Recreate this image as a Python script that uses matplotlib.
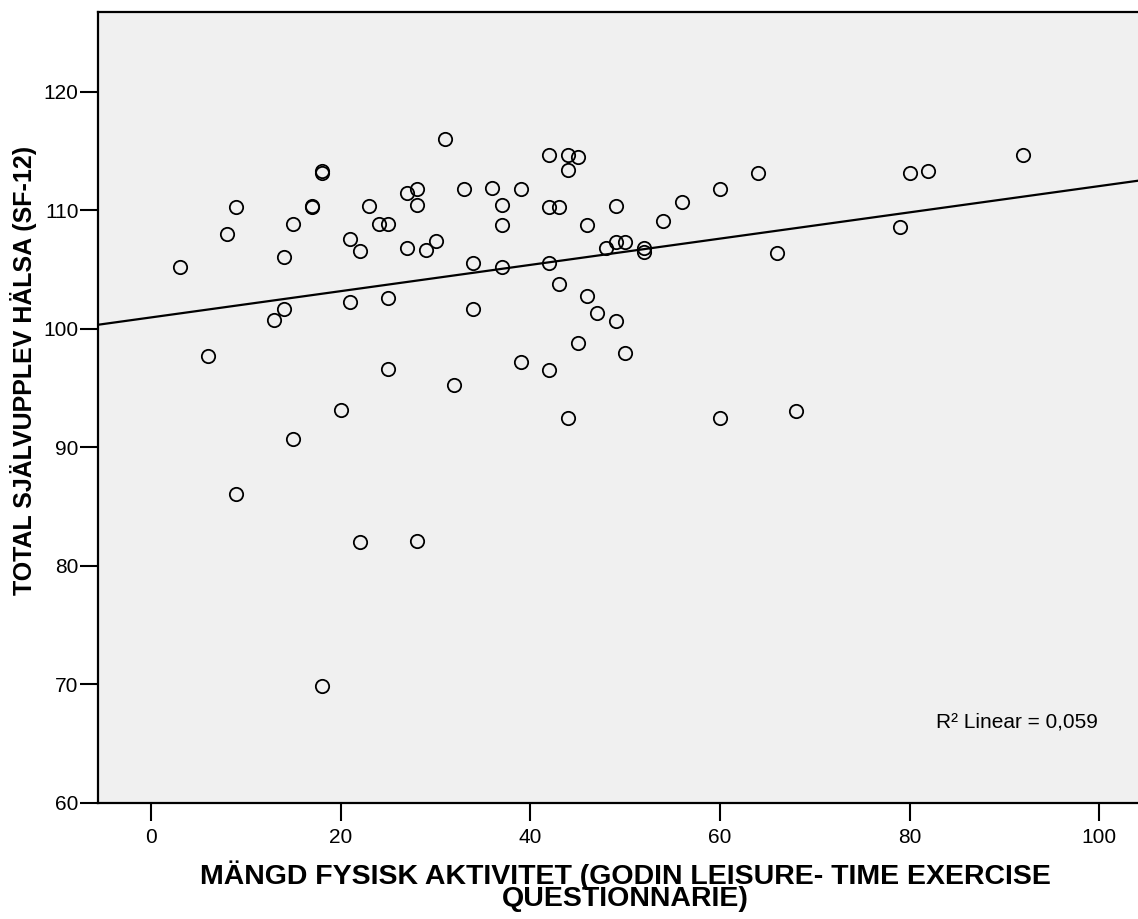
import numpy as np
import matplotlib
matplotlib.use("Agg")
import matplotlib.pyplot as plt
from matplotlib.transforms import IdentityTransform

plt.rcParams['font.family'] = ['Liberation Sans', 'DejaVu Sans']

activity = [3, 6, 8, 9, 9, 13, 14, 14, 15, 15, 17, 17, 18, 18, 18, 20, 21, 21, 22, 22,
            23, 24, 25, 25, 25, 27, 27, 28, 28, 28, 29, 30, 31, 32, 33, 34, 34, 36, 37, 37,
            37, 39, 39, 42, 42, 42, 42, 43, 43, 44, 44, 44, 45, 45, 46, 46, 47, 48, 49, 49,
            49, 50, 50, 52, 52, 54, 56, 60, 60, 64, 66, 68, 79, 80, 82, 92]
health = [105.2, 97.7, 108.05, 110.3, 86.1, 100.8, 101.7, 106.1, 108.9, 90.7, 110.3, 110.35,
          113.3, 113.2, 69.9, 93.2, 107.6, 102.25, 106.6, 82.05, 110.35, 108.9, 108.9, 102.6,
          96.6, 111.45, 106.8, 111.8, 110.5, 82.1, 106.7, 107.45, 116.0, 95.3, 111.8, 105.6,
          101.7, 111.9, 110.5, 108.75, 105.2, 111.8, 97.2, 114.7, 110.3, 105.6, 96.5, 110.3,
          103.8, 114.7, 113.4, 92.5, 114.5, 98.8, 108.8, 102.8, 101.35, 106.8, 110.4, 107.3,
          100.7, 107.3, 98.0, 106.8, 106.5, 109.1, 110.7, 111.8, 92.5, 113.2, 106.4, 93.1,
          108.6, 113.2, 113.3, 114.7]
x_ticks = [0, 20, 40, 60, 80, 100]
y_ticks = [60, 70, 80, 90, 100, 110, 120]
r2_label = "R² Linear = 0,059"
x_label = "MÄNGD FYSISK AKTIVITET (GODIN LEISURE- TIME EXERCISE\nQUESTIONNARIE)"
y_label = "TOTAL SJÄLVUPPLEV HÄLSA (SF-12)"

W, H = 1138, 919
fig = plt.figure(figsize=(W / 100, H / 100), dpi=100)
ax = fig.add_axes([98 / W, 1 - 803 / H, (W - 98) / W, (803 - 12) / H])
ax.set_facecolor('#F0F0F0')

xmin, xmax = -5.6, 104.1
ax.set_xlim(xmin, xmax)
ax.set_ylim(60, 126.75)

ax.plot(activity, health, linestyle='none', marker='o', markersize=9.6,
        markerfacecolor='none', markeredgecolor='black', markeredgewidth=1.3, zorder=3)

coef = np.polyfit(activity, health, 1)
xs = np.array([xmin, xmax])
ax.plot(xs, np.polyval(coef, xs), color='black', linewidth=1.6, zorder=2)

ax.set_xticks(x_ticks)
ax.set_yticks(y_ticks)
ax.tick_params(axis='both', direction='out', length=13, width=1.5, labelsize=15, colors='black')
ax.tick_params(axis='y', pad=1)
ax.tick_params(axis='x', pad=5)

for s in ['left', 'bottom', 'top']:
    ax.spines[s].set_linewidth(1.6)
    ax.spines[s].set_color('black')
ax.spines['right'].set_visible(False)

# axis titles placed in pixel coordinates
fig.text(625, H - 886.5, x_label, transform=IdentityTransform(), fontsize=20.5,
         fontweight='bold', ha='center', va='center', multialignment='center',
         linespacing=0.79)
fig.text(32, H - 370, y_label, transform=IdentityTransform(), fontsize=18,
         fontweight='bold', ha='center', va='baseline', rotation=90, rotation_mode='anchor')

fig.text(1098, H - 727, r2_label, transform=IdentityTransform(), fontsize=15,
         ha='right', va='baseline')

fig.savefig('out.png', dpi=100)
